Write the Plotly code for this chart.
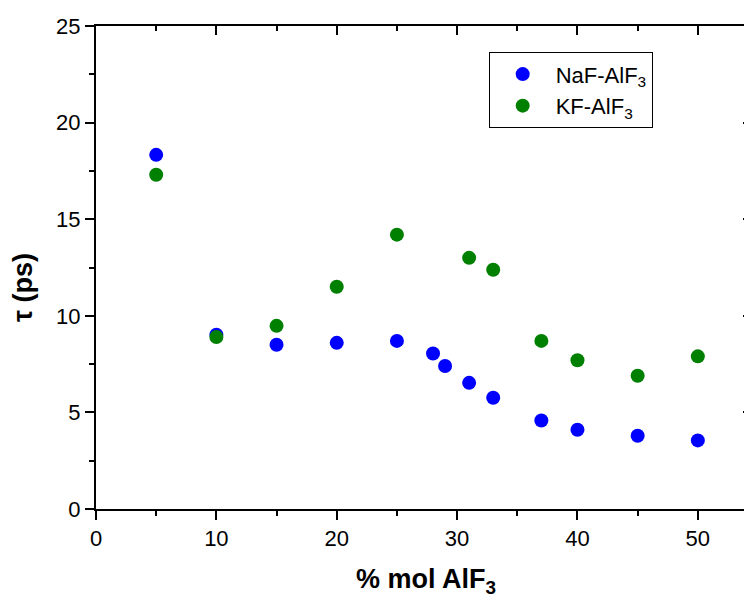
import plotly.graph_objects as go

# Data
naf_x = [5, 10, 15, 20, 25, 28, 29, 31, 33, 37, 40, 45, 50]
naf_y = [18.33, 9.02, 8.5, 8.6, 8.7, 8.05, 7.4, 6.53, 5.76, 4.58, 4.1, 3.79, 3.55]
kf_x = [5, 10, 15, 20, 25, 31, 33, 37, 40, 45, 50]
kf_y = [17.3, 8.9, 9.48, 11.5, 14.2, 13.0, 12.38, 8.7, 7.7, 6.9, 7.9]
names = ["NaF-AlF<sub>3</sub>", "KF-AlF<sub>3</sub>"]
x_title = "<b>% mol AlF<sub>3</sub></b>"
y_title = "<b>τ (ps)</b>"

FONT = "Liberation Sans, Arial, sans-serif"

fig = go.Figure()
fig.add_trace(go.Scatter(x=naf_x, y=naf_y, mode="markers", name=names[0],
                         marker=dict(color="#0000ff", size=14)))
fig.add_trace(go.Scatter(x=kf_x, y=kf_y, mode="markers", name=names[1],
                         marker=dict(color="#008000", size=14)))
# empty trace to activate mirror axes
fig.add_trace(go.Scatter(x=[], y=[], xaxis="x2", yaxis="y2", showlegend=False,
                         hoverinfo="skip"))

XMAX = 54.5
common = dict(showgrid=False, zeroline=False, linecolor="black", linewidth=2,
              tickcolor="black", tickwidth=2)

fig.update_layout(
    width=744, height=591,
    margin=dict(l=88, r=0, t=18, b=89.5),
    paper_bgcolor="white", plot_bgcolor="white",
    font=dict(family=FONT, size=22, color="black"),
    xaxis=dict(range=[0, XMAX], tickmode="linear", tick0=0, dtick=10,
               ticks="outside", ticklen=9, showline=True,
               minor=dict(ticks="outside", ticklen=5, dtick=5, tick0=0,
                          tickcolor="black", tickwidth=2),
               tickfont=dict(size=22), **common),
    yaxis=dict(range=[0, 25], tickmode="linear", tick0=0, dtick=5,
               ticks="outside", ticklen=9, showline=True,
               minor=dict(ticks="outside", ticklen=5, dtick=2.5, tick0=0,
                          tickcolor="black", tickwidth=2),
               tickfont=dict(size=22), **common),
    xaxis2=dict(range=[0, XMAX], overlaying="x", side="top", anchor="y",
                tickmode="linear", tick0=0, dtick=10, ticks="inside", ticklen=9,
                showline=True, showticklabels=False,
                minor=dict(ticks="inside", ticklen=5, dtick=5, tick0=0,
                           tickcolor="black", tickwidth=2), **common),
    yaxis2=dict(range=[0, 25], overlaying="y", side="right", anchor="x",
                tickmode="linear", tick0=0, dtick=5, ticks="inside", ticklen=9,
                showline=False, showticklabels=False,
                minor=dict(ticks="inside", ticklen=5, dtick=2.5, tick0=0,
                           tickcolor="black", tickwidth=2), **common),
    legend=dict(x=0.5986, y=0.9456, xanchor="left", yanchor="top",
                bgcolor="white", bordercolor="black", borderwidth=1,
                font=dict(size=22), itemwidth=56),
    showlegend=True,
    annotations=[
        dict(text=x_title, xref="paper", yref="paper", x=0.503, y=-0.15,
             xanchor="center", yanchor="middle", showarrow=False,
             font=dict(size=27)),
        dict(text=y_title, xref="paper", yref="paper", x=-0.111, y=0.458,
             xanchor="center", yanchor="middle", showarrow=False,
             textangle=-90, font=dict(size=27)),
    ],
)

fig.write_html("out.html")
